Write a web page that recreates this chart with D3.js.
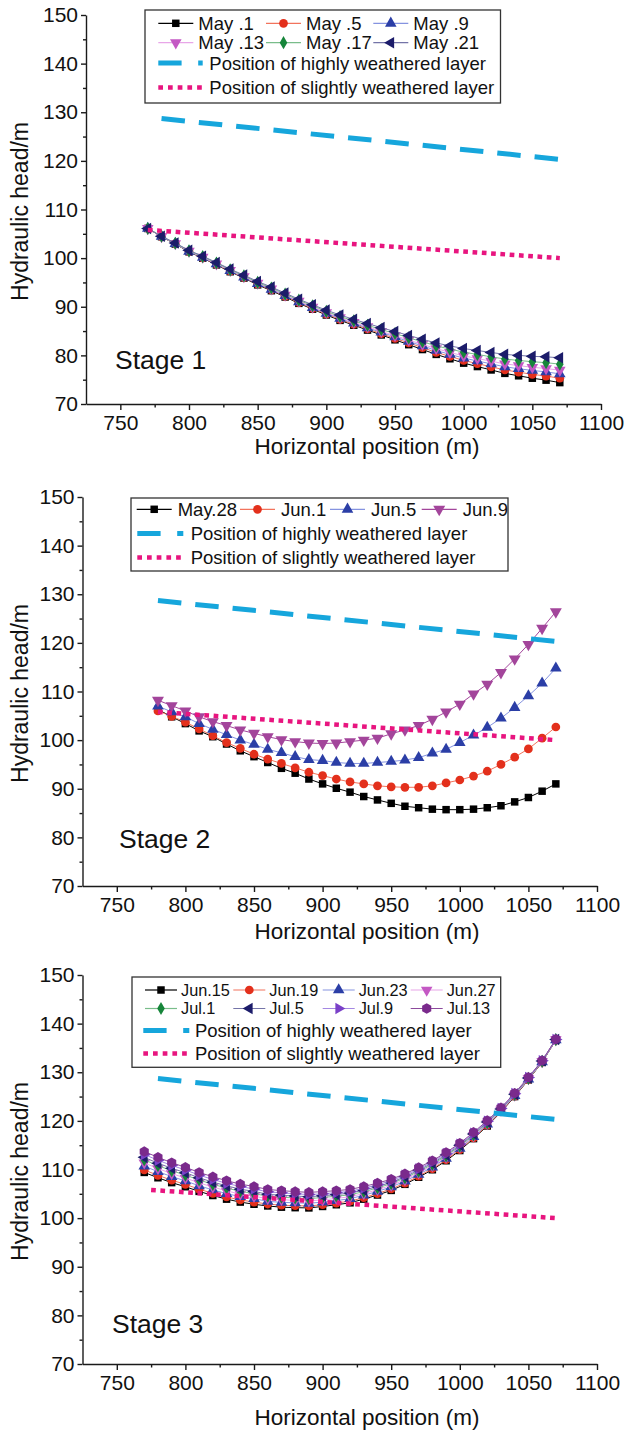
<!DOCTYPE html>
<html>
<head>
<meta charset="utf-8">
<script src="https://cdn.jsdelivr.net/npm/d3@7"></script>
<style>
  body { margin: 0; background: #fff; }
  svg { display: block; }
  text { font-family: "Liberation Sans", Arial, sans-serif; fill: #111; }
</style>
</head>
<body>
<svg id="chart" width="633" height="1435"></svg>
<script>
// ---- data ----
var xTicks = [750, 800, 850, 900, 950, 1000, 1050, 1100];
var xMinor = [775, 825, 875, 925, 975, 1025, 1075];
var yTicks = [70, 80, 90, 100, 110, 120, 130, 140, 150];
var yMinor = [75, 85, 95, 105, 115, 125, 135, 145];

// stage 1
var xStage1 = [770, 780, 790, 800, 810, 820, 830, 840, 850, 860, 870, 880, 890, 900, 910, 920, 930, 940, 950, 960, 970, 980, 990, 1000, 1010, 1020, 1030, 1040, 1050, 1060, 1070];
var stage1Names = ["May .1", "May .5", "May .9", "May .13", "May .17", "May .21"];
var may1 = [106.1, 104.4, 102.9, 101.3, 100.0, 98.6, 97.2, 95.9, 94.5, 93.3, 92.0, 90.7, 89.5, 88.3, 87.2, 86.2, 85.2, 84.2, 83.2, 82.2, 81.2, 80.2, 79.3, 78.4, 77.7, 77.0, 76.3, 75.8, 75.3, 74.9, 74.4];
var may5 = [106.1, 104.4, 102.95, 101.35, 100.05, 98.7, 97.3, 96.0, 94.65, 93.45, 92.15, 90.85, 89.65, 88.5, 87.4, 86.4, 85.45, 84.45, 83.5, 82.55, 81.6, 80.6, 79.8, 78.95, 78.3, 77.65, 77.0, 76.55, 76.1, 75.75, 75.3];
var may9 = [106.1, 104.45, 102.95, 101.4, 100.15, 98.8, 97.4, 96.1, 94.75, 93.55, 92.3, 91.0, 89.8, 88.65, 87.6, 86.6, 85.65, 84.75, 83.8, 82.85, 81.95, 81.0, 80.2, 79.45, 78.85, 78.25, 77.65, 77.25, 76.9, 76.6, 76.2];
var may13 = [106.1, 104.45, 103.0, 101.45, 100.2, 98.85, 97.5, 96.2, 94.85, 93.7, 92.4, 91.15, 89.95, 88.8, 87.75, 86.8, 85.9, 84.95, 84.05, 83.15, 82.25, 81.4, 80.6, 79.9, 79.35, 78.8, 78.25, 77.9, 77.55, 77.3, 76.95];
var may17 = [106.1, 104.5, 103.05, 101.5, 100.3, 99.0, 97.6, 96.35, 95.0, 93.85, 92.6, 91.35, 90.2, 89.05, 88.0, 87.1, 86.2, 85.3, 84.5, 83.6, 82.8, 81.95, 81.3, 80.65, 80.2, 79.7, 79.25, 78.95, 78.7, 78.5, 78.2];
var may21 = [106.1, 104.5, 103.1, 101.6, 100.4, 99.1, 97.75, 96.5, 95.2, 94.05, 92.8, 91.55, 90.4, 89.3, 88.3, 87.4, 86.55, 85.7, 84.9, 84.1, 83.3, 82.55, 81.95, 81.4, 81.0, 80.6, 80.2, 80.0, 79.8, 79.7, 79.5];

// stage 2
var xStage2 = [780, 790, 800, 810, 820, 830, 840, 850, 860, 870, 880, 890, 900, 910, 920, 930, 940, 950, 960, 970, 980, 990, 1000, 1010, 1020, 1030, 1040, 1050, 1060, 1070];
var stage2Names = ["May.28", "Jun.1", "Jun.5", "Jun.9"];
var may28 = [106.3, 104.8, 103.4, 101.9, 100.7, 99.2, 97.8, 96.6, 95.4, 94.2, 93.2, 92.0, 91.0, 90.1, 89.3, 88.4, 87.7, 87.0, 86.4, 86.1, 85.8, 85.7, 85.7, 85.8, 86.1, 86.5, 87.3, 88.2, 89.5, 91.0];
var jun1 = [106.0, 104.9, 103.7, 102.3, 100.9, 99.5, 98.3, 97.1, 96.1, 95.2, 94.3, 93.4, 92.7, 92.0, 91.4, 91.0, 90.6, 90.4, 90.3, 90.3, 90.6, 91.2, 91.8, 92.6, 93.6, 95.0, 96.5, 98.2, 100.4, 102.7];
var jun5 = [107.0, 105.8, 104.8, 103.4, 102.2, 101.1, 100.0, 99.1, 98.1, 97.4, 96.6, 96.0, 95.8, 95.4, 95.2, 95.2, 95.4, 95.6, 95.9, 96.4, 97.3, 98.1, 99.5, 101.0, 102.6, 104.5, 106.7, 109.1, 111.7, 114.8];
var jun9 = [108.2, 107.1, 106.0, 104.8, 103.8, 103.0, 102.1, 101.4, 100.7, 100.1, 99.7, 99.4, 99.3, 99.4, 99.7, 100.0, 100.4, 101.3, 102.1, 103.0, 104.3, 105.8, 107.4, 109.5, 111.5, 113.9, 116.7, 119.7, 123.0, 126.4];

// stage 3
var xStage3 = [770, 780, 790, 800, 810, 820, 830, 840, 850, 860, 870, 880, 890, 900, 910, 920, 930, 940, 950, 960, 970, 980, 990, 1000, 1010, 1020, 1030, 1040, 1050, 1060, 1070];
var stage3Names = ["Jun.15", "Jun.19", "Jun.23", "Jun.27", "Jul.1", "Jul.5", "Jul.9", "Jul.13"];
var jun15 = [109.4, 108.3, 107.3, 106.45, 105.5, 104.65, 103.9, 103.3, 102.85, 102.5, 102.25, 102.15, 102.1, 102.4, 102.75, 103.15, 103.9, 104.75, 105.7, 106.95, 108.4, 109.95, 111.8, 113.9, 116.35, 118.95, 121.8, 125.0, 128.45, 132.05, 136.6];
var jun19 = [109.9, 108.8, 107.8, 106.95, 105.95, 105.1, 104.35, 103.75, 103.3, 102.9, 102.65, 102.55, 102.5, 102.75, 103.1, 103.5, 104.2, 105.05, 106.0, 107.2, 108.65, 110.15, 112.0, 114.1, 116.5, 119.1, 121.9, 125.1, 128.5, 132.1, 136.6];
var jun23 = [110.7, 109.55, 108.55, 107.65, 106.65, 105.8, 105.05, 104.4, 104.0, 103.45, 103.25, 103.15, 103.05, 103.3, 103.6, 104.0, 104.7, 105.5, 106.4, 107.6, 109.0, 110.5, 112.3, 114.35, 116.75, 119.3, 122.05, 125.2, 128.6, 132.15, 136.65];
var jun27 = [111.35, 110.2, 109.15, 108.25, 107.25, 106.4, 105.6, 104.95, 104.5, 104.0, 103.8, 103.65, 103.55, 103.75, 104.05, 104.4, 105.05, 105.85, 106.75, 107.9, 109.3, 110.8, 112.55, 114.6, 116.95, 119.45, 122.2, 125.3, 128.7, 132.2, 136.7];
var jul1 = [112.0, 110.8, 109.75, 108.85, 107.85, 106.95, 106.2, 105.5, 105.05, 104.5, 104.3, 104.15, 104.0, 104.25, 104.5, 104.8, 105.45, 106.2, 107.1, 108.25, 109.6, 111.05, 112.8, 114.8, 117.1, 119.6, 122.35, 125.4, 128.75, 132.25, 136.7];
var jul5 = [112.5, 111.3, 110.25, 109.35, 108.3, 107.4, 106.65, 105.95, 105.5, 104.9, 104.7, 104.55, 104.4, 104.6, 104.85, 105.15, 105.75, 106.5, 107.35, 108.5, 109.85, 111.3, 113.0, 115.0, 117.3, 119.75, 122.45, 125.5, 128.8, 132.3, 136.75];
var jul9 = [113.1, 111.9, 110.85, 109.9, 108.85, 107.95, 107.15, 106.5, 106.0, 105.4, 105.2, 105.0, 104.85, 105.0, 105.25, 105.5, 106.15, 106.85, 107.7, 108.8, 110.1, 111.55, 113.25, 115.2, 117.45, 119.9, 122.55, 125.6, 128.9, 132.35, 136.75];
var jul13 = [113.7, 112.5, 111.4, 110.45, 109.4, 108.5, 107.7, 107.0, 106.5, 105.9, 105.65, 105.45, 105.3, 105.45, 105.65, 105.9, 106.5, 107.2, 108.0, 109.1, 110.4, 111.8, 113.5, 115.4, 117.65, 120.05, 122.7, 125.7, 128.95, 132.4, 136.8];

// weathered layers (end points)
var layerNames = ["Position of highly weathered layer", "Position of slightly weathered layer"];
var highlyX = [780, 1070];
var highlyY = [128.7, 120.3];
var slightlyX1 = [770, 1070];
var slightlyX2 = [780, 1070];
var slightlyX3 = [775, 1070];
var slightlyY = [105.8, 100.0];

// ---- styles ----
var styles = {
  black:  { shape: "square",   rot: 0,   fill: "#000000", line: "#000000", size: 56 },
  red:    { shape: "circle",   rot: 0,   fill: "#e3301c", line: "#f2735c", size: 60 },
  blue:   { shape: "triangle", rot: 0,   fill: "#2b3ea6", line: "#8593e0", size: 58 },
  pink:   { shape: "triangle", rot: 180, fill: "#c458c4", line: "#e8a6e8", size: 58 },
  green:  { shape: "diamond",  rot: 0,   fill: "#16853a", line: "#79bd8a", size: 50 },
  navy:   { shape: "triangle", rot: -90, fill: "#1c1c6a", line: "#7474a8", size: 58 },
  plum:   { shape: "triangle", rot: 180, fill: "#a3459b", line: "#a3459b", size: 62 },
  violet: { shape: "triangle", rot: 90,  fill: "#7a40c8", line: "#a487e2", size: 58 },
  grape:  { shape: "hexagon",  rot: 0,   fill: "#7a2a8c", line: "#8c4a9c", size: 72 }
};

var symbolHexagon = {
  draw: function (ctx, size) {
    var r = Math.sqrt(2 * size / (3 * Math.sqrt(3)));
    for (var i = 0; i < 6; i++) {
      var a = Math.PI / 3 * i + Math.PI / 6;
      if (i === 0) ctx.moveTo(r * Math.cos(a), r * Math.sin(a));
      else ctx.lineTo(r * Math.cos(a), r * Math.sin(a));
    }
    ctx.closePath();
  }
};
var shapes = {
  square: d3.symbolSquare, circle: d3.symbolCircle, triangle: d3.symbolTriangle,
  diamond: d3.symbolDiamond, hexagon: symbolHexagon
};

var panels = [
  {
    xs: xStage1, names: stage1Names, series: [may1, may5, may9, may13, may17, may21],
    keys: ["black", "red", "blue", "pink", "green", "navy"],
    slightlyX: slightlyX1, stage: "Stage 1",
    left: 86, right: 601, top: 15, bottom: 404,
    stageX: 115, stageY: 369, titleDy: 50,
    legend: { box: [145, 10, 500.5, 103], ncol: 3, colX: [158.3, 266, 373.3], lineLen: 35, textDx: 40,
              rows: [23.3, 42.7, 63, 87.5], layerX: 158.3, layerLen: 44.4, layerTextDx: 51, fontSize: 18.5 }
  },
  {
    xs: xStage2, names: stage2Names, series: [may28, jun1, jun5, jun9],
    keys: ["black", "red", "blue", "plum"],
    slightlyX: slightlyX2, stage: "Stage 2",
    left: 82.5, right: 597, top: 497, bottom: 886,
    stageX: 119, stageY: 848, titleDy: 53,
    legend: { box: [131, 498, 508, 571], ncol: 4, colX: [136.7, 240, 330, 421.7], lineLen: 35, textDx: 41,
              rows: [509.3, 533.5, 557.5], layerX: 137.3, layerLen: 46, layerTextDx: 53.4, fontSize: 18.5 }
  },
  {
    xs: xStage3, names: stage3Names, series: [jun15, jun19, jun23, jun27, jul1, jul5, jul9, jul13],
    keys: ["black", "red", "blue", "pink", "green", "navy", "violet", "grape"],
    slightlyX: slightlyX3, stage: "Stage 3",
    left: 82.5, right: 597, top: 975, bottom: 1364,
    stageX: 112, stageY: 1333, titleDy: 61,
    legend: { box: [132, 977, 500.7, 1067.3], ncol: 4, colX: [145, 233.3, 322.7, 410.7], lineLen: 32, textDx: 36,
              rows: [990, 1008.5, 1030.5, 1053.5], layerX: 143.3, layerLen: 46, layerTextDx: 51.7, fontSize: 16.3 }
  }
];

var svg = d3.select("#chart");

function marker(sel, st) {
  sel.attr("d", d3.symbol().type(shapes[st.shape]).size(st.size))
    .attr("fill", st.fill)
    .attr("stroke", "none");
}

function styleAxis(ax) {
  ax.selectAll("path, line").attr("stroke", "#1a1a1a").attr("stroke-width", 1.4);
  ax.attr("font-size", 21).attr("font-family", "'Liberation Sans', Arial, sans-serif");
  ax.selectAll("text").attr("fill", "#111");
}

function drawPanel(p) {
  var x = d3.scaleLinear().domain([725, 1100]).range([p.left, p.right]);
  var y = d3.scaleLinear().domain([70, 150]).range([p.bottom, p.top]);
  var g = svg.append("g");

  // minor ticks
  g.append("g")
    .attr("transform", "translate(0," + p.bottom + ")")
    .call(d3.axisBottom(x).tickValues(xMinor).tickSize(3.5).tickFormat(""))
    .call(function (a) { a.select(".domain").remove(); styleAxis(a); });
  g.append("g")
    .attr("transform", "translate(" + p.left + ",0)")
    .call(d3.axisLeft(y).tickValues(yMinor).tickSize(3).tickFormat(""))
    .call(function (a) { a.select(".domain").remove(); styleAxis(a); });

  // major axes
  g.append("g")
    .attr("transform", "translate(0," + p.bottom + ")")
    .call(d3.axisBottom(x).tickValues(xTicks).tickFormat(d3.format("d"))
      .tickSize(6).tickSizeOuter(0).tickPadding(5))
    .call(styleAxis);
  g.append("g")
    .attr("transform", "translate(" + p.left + ",0)")
    .call(d3.axisLeft(y).tickValues(yTicks).tickFormat(d3.format("d"))
      .tickSize(5).tickSizeOuter(0).tickPadding(3))
    .call(styleAxis);

  // axis titles
  g.append("text")
    .attr("x", 367).attr("y", p.bottom + p.titleDy)
    .attr("text-anchor", "middle").attr("font-size", 22.5)
    .text("Horizontal position (m)");
  g.append("text")
    .attr("transform", "translate(28," + ((p.top + p.bottom) / 2 + 2) + ") rotate(-90)")
    .attr("text-anchor", "middle").attr("font-size", 23)
    .text("Hydraulic head/m");

  g.append("text")
    .attr("x", p.stageX).attr("y", p.stageY)
    .attr("font-size", 26.5)
    .text(p.stage);

  // series
  var line = d3.line()
    .x(function (d) { return x(d[0]); })
    .y(function (d) { return y(d[1]); });

  p.series.forEach(function (vals, k) {
    var st = styles[p.keys[k]];
    var pts = d3.zip(p.xs, vals);
    var sg = g.append("g");
    sg.append("path")
      .attr("d", line(pts))
      .attr("fill", "none")
      .attr("stroke", st.line)
      .attr("stroke-width", 1);
    sg.selectAll("path.mk")
      .data(pts)
      .enter()
      .append("path")
      .attr("class", "mk")
      .attr("transform", function (d) {
        return "translate(" + x(d[0]) + "," + y(d[1]) + ") rotate(" + st.rot + ")";
      })
      .call(marker, st);
  });

  // weathered layers
  g.append("path")
    .attr("d", line(d3.zip(highlyX, highlyY)))
    .attr("fill", "none").attr("stroke", "#16a6dc")
    .attr("stroke-width", 5).attr("stroke-dasharray", "23.5,14");
  g.append("path")
    .attr("d", line(d3.zip(p.slightlyX, slightlyY)))
    .attr("fill", "none").attr("stroke", "#e8157f")
    .attr("stroke-width", 4.5).attr("stroke-dasharray", "4.7,4.6");

  // legend
  var L = p.legend;
  g.append("rect")
    .attr("x", L.box[0]).attr("y", L.box[1])
    .attr("width", L.box[2] - L.box[0]).attr("height", L.box[3] - L.box[1])
    .attr("fill", "#fff").attr("stroke", "#333").attr("stroke-width", 1.3);

  var nSeriesRows = Math.ceil(p.names.length / L.ncol);
  var items = g.append("g")
    .selectAll("g")
    .data(p.names)
    .enter()
    .append("g")
    .attr("transform", function (d, i) {
      return "translate(" + L.colX[i % L.ncol] + "," + L.rows[Math.floor(i / L.ncol)] + ")";
    });
  items.append("line")
    .attr("x1", 0).attr("x2", L.lineLen)
    .attr("stroke", function (d, i) { return styles[p.keys[i]].line; })
    .attr("stroke-width", 1.2);
  items.append("path")
    .each(function (d, i) {
      var st = styles[p.keys[i]];
      d3.select(this)
        .attr("transform", "translate(" + (L.lineLen / 2) + ",0) rotate(" + st.rot + ")")
        .call(marker, st);
    });
  items.append("text")
    .attr("x", L.textDx).attr("y", L.fontSize * 0.35)
    .attr("font-size", L.fontSize)
    .text(function (d) { return d; });

  var layers = g.append("g")
    .selectAll("g")
    .data(layerNames)
    .enter()
    .append("g")
    .attr("transform", function (d, i) {
      return "translate(" + L.layerX + "," + L.rows[nSeriesRows + i] + ")";
    });
  layers.append("line")
    .attr("x1", 0).attr("x2", L.layerLen)
    .attr("stroke", function (d, i) { return i === 0 ? "#16a6dc" : "#e8157f"; })
    .attr("stroke-width", function (d, i) { return i === 0 ? 5 : 4.5; })
    .attr("stroke-dasharray", function (d, i) { return i === 0 ? "23.3,16.6" : "4.7,5"; });
  layers.append("text")
    .attr("x", L.layerTextDx).attr("y", 6.5)
    .attr("font-size", 18.5)
    .text(function (d) { return d; });
}

panels.forEach(drawPanel);
</script>
</body>
</html>
